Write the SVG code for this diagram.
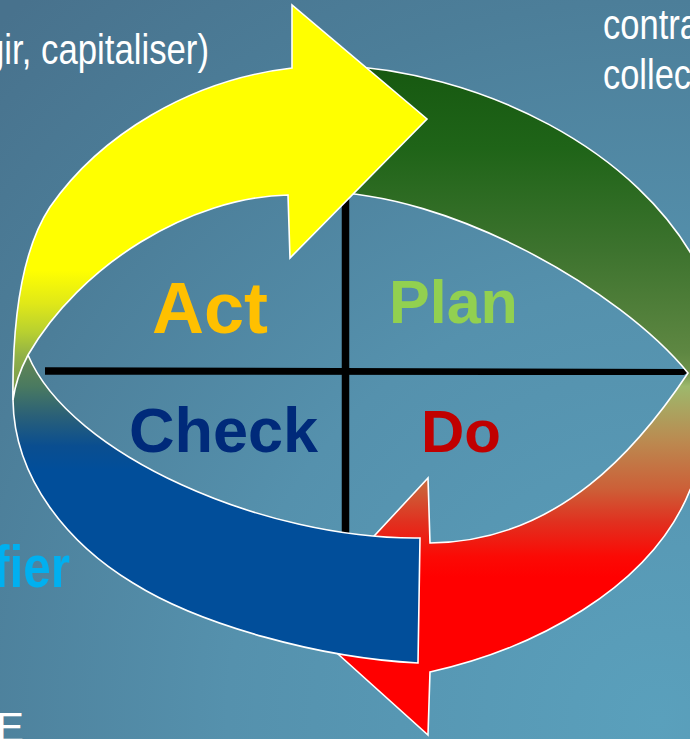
<svg xmlns="http://www.w3.org/2000/svg" width="690" height="739" viewBox="0 0 690 739">
<defs>
<radialGradient id="bg" gradientUnits="userSpaceOnUse" cx="660" cy="720" r="960">
<stop offset="0" stop-color="#5aa0bc"/>
<stop offset="0.45" stop-color="#5591ad"/>
<stop offset="0.75" stop-color="#4c7e99"/>
<stop offset="1" stop-color="#48728d"/>
</radialGradient>
<linearGradient id="gRight" gradientUnits="userSpaceOnUse" x1="0" y1="60" x2="0" y2="740">
<stop offset="0" stop-color="#165810"/>
<stop offset="0.13" stop-color="#1f6418"/>
<stop offset="0.28" stop-color="#3d732e"/>
<stop offset="0.43" stop-color="#5e8742"/>
<stop offset="0.455" stop-color="#6b9049"/>
<stop offset="0.48" stop-color="#9db86c"/>
<stop offset="0.56" stop-color="#bb8a50"/>
<stop offset="0.63" stop-color="#cc6038"/>
<stop offset="0.68" stop-color="#e1301f"/>
<stop offset="0.73" stop-color="#fb0a05"/>
<stop offset="0.76" stop-color="#ff0000"/>
</linearGradient>
<linearGradient id="gYellow" gradientUnits="userSpaceOnUse" x1="0" y1="0" x2="0" y2="410">
<stop offset="0.66" stop-color="#ffff00"/>
<stop offset="0.74" stop-color="#e0e818"/>
<stop offset="0.81" stop-color="#b8d030"/>
<stop offset="0.87" stop-color="#90b048"/>
<stop offset="1" stop-color="#6a8a50"/>
</linearGradient>
<linearGradient id="gBlue" gradientUnits="userSpaceOnUse" x1="0" y1="350" x2="0" y2="470">
<stop offset="0" stop-color="#6a8a50"/>
<stop offset="0.3" stop-color="#4a7a60"/>
<stop offset="0.55" stop-color="#2a6078"/>
<stop offset="0.8" stop-color="#0a4e90"/>
<stop offset="1" stop-color="#014e9a"/>
</linearGradient>
<style>
.band{stroke:#ffffff;stroke-width:1.6;stroke-linejoin:miter}
.cross{stroke:#000000;stroke-width:7.5;fill:none}
.big{font-family:"Liberation Sans",Arial,sans-serif;font-weight:bold}
.note{font-family:"Liberation Sans",Arial,sans-serif;fill:#ffffff;font-size:42px}
</style>
</defs>

<rect x="0" y="0" width="690" height="739" fill="url(#bg)"/>

<g id="notes">
<text class="note" x="-15" y="64" textLength="224" lengthAdjust="spacingAndGlyphs">gir, capitaliser)</text>
<text class="note" x="603" y="39" textLength="96" lengthAdjust="spacingAndGlyphs">contra</text>
<text class="note" x="603" y="89" textLength="88" lengthAdjust="spacingAndGlyphs">collec</text>
<text class="note" x="-4" y="742">E</text>
<text class="big" x="-7" y="587" font-size="60" fill="#00b0f0" textLength="77" lengthAdjust="spacingAndGlyphs">fier</text>
</g>

<g id="cross">
<line class="cross" x1="345.5" y1="195" x2="345.5" y2="545"/>
<path d="M45 367.3 L684 369 L688 372.5 L684 375 L45 374.8 Z" fill="#000"/>
</g>

<g id="labels">
<text id="act" class="big" x="152" y="333" font-size="72" fill="#ffc000">Act</text>
<text id="plan" class="big" x="389" y="323" font-size="61" fill="#92d050">Plan</text>
<text id="check" class="big" x="129" y="452" font-size="63" fill="#002a7a">Check</text>
<text id="do" class="big" x="421" y="452" font-size="60" fill="#c00000">Do</text>
</g>

<g id="connectors">
<g id="plan-do-arrow">
<path class="band" fill="url(#gRight)" d="M330 65 C480 70 640 150 700 270 C722 330 718 440 690 490 C650 590 530 650 430 672 L428 735 L298 618 L428 478 L430 543 C560 542 640 445 688 373 C620 290 450 192 320 192 Z"/>
</g>
<g id="check-arrow">
<path class="band" fill="url(#gBlue)" d="M28 355 L14 362 L13 400 C14 480 70 545 133 583 C200 625 320 658 418 663 L420 538 C265 540 70 455 28 355 Z"/>
</g>
<g id="act-arrow">
<path class="band" fill="url(#gYellow)" d="M13 400 C12 310 25 245 50 207 C100 135 190 80 292 68 L292 5 L427 119 L290 258 L288 195 C190 197 80 265 28 355 C20 370 15 385 13 400 Z"/>
</g>
</g>
</svg>
